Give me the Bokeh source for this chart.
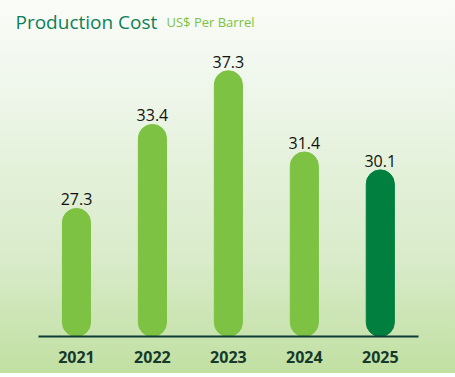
from bokeh.plotting import figure
from bokeh.models import ColumnDataSource, Range1d, Label, InlineStyleSheet, FixedTicker
from bokeh.core.properties import value
from bokeh.embed import file_html
from bokeh.resources import INLINE

years = ["2021", "2022", "2023", "2024", "2025"]
costs = [27.3, 33.4, 37.3, 31.4, 30.1]
bar_colors = ["#7DC242", "#7DC242", "#7DC242", "#7DC242", "#007F3F"]
labels = [f"{v:.1f}" for v in costs]
title_text = "Production Cost"
subtitle_text = "US$ Per Barrel"

positions = list(range(1, len(years) + 1))
y_start, y_end = 18, 42.4

src = ColumnDataSource(dict(x=positions, top=costs, color=bar_colors, label=labels))

p = figure(x_range=Range1d(0, 5.99), y_range=Range1d(y_start, y_end),
           width=455, height=373, output_backend="svg", toolbar_location=None,
           min_border_left=0, min_border_right=0, min_border_top=0, min_border_bottom=37,
           y_axis_location=None)

p.background_fill_color = None
p.border_fill_color = None
p.outline_line_color = None
p.xgrid.visible = False
p.ygrid.visible = False

p.stylesheets = [InlineStyleSheet(css=":host { background: linear-gradient(to bottom, #fafcf8 0%, #eef6ea 25%, #e4f1da 45%, #d9ebca 70%, #cfe6b9 82%, #c1e0a2 100%); }")]

p.vbar(x="x", top="top", bottom=y_start, width=0.37, color="color", source=src,
       border_radius=14)

p.text(x="x", y="top", text="label", source=src, text_align="center",
       text_baseline="bottom", y_offset=-3, text_font=value("Open Sans"),
       text_font_size="16px", text_color="#111111")

ax = p.xaxis[0]
ax.ticker = FixedTicker(ticks=positions)
ax.major_label_overrides = {pos: yr for pos, yr in zip(positions, years)}
ax.bounds = (0.5, len(years) + 0.5)
ax.axis_line_color = "#0c3b38"
ax.axis_line_width = 2
ax.major_tick_line_color = None
ax.minor_tick_line_color = None
ax.major_label_text_font = "Open Sans"
ax.major_label_text_font_size = "16px"
ax.major_label_text_font_style = "bold"
ax.major_label_text_color = "#16392c"
ax.major_label_standoff = 8

p.add_layout(Label(x=15, y=315, x_units="screen", y_units="screen", text=title_text,
                   text_font="Open Sans", text_font_size="19px", text_color="#0E7F58",
                   text_baseline="alphabetic"))
p.add_layout(Label(x=166, y=315, x_units="screen", y_units="screen", text=subtitle_text,
                   text_font="Open Sans", text_font_size="13px", text_color="#7DC242",
                   text_baseline="alphabetic"))

open("out.html", "w").write(file_html(p, INLINE))
